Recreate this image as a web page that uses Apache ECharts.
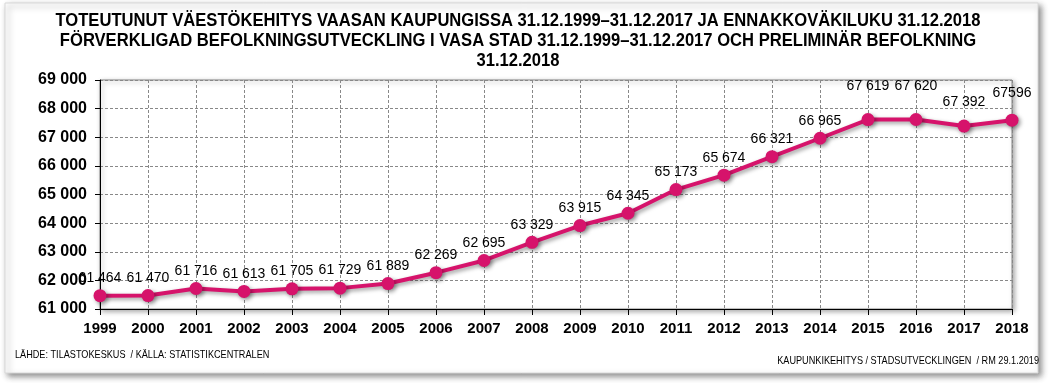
<!DOCTYPE html>
<html>
<head>
<meta charset="utf-8">
<script src="https://cdn.jsdelivr.net/npm/echarts@6/dist/echarts.min.js"></script>
<style>
html,body{margin:0;padding:0;background:#fff;}
#chart{width:1053px;height:383px;}
</style>
</head>
<body>
<div id="chart"></div>
<script>
const years = ['1999','2000','2001','2002','2003','2004','2005','2006','2007','2008','2009','2010','2011','2012','2013','2014','2015','2016','2017','2018'];
const population = [61464,61470,61716,61613,61705,61729,61889,62269,62695,63329,63915,64345,65173,65674,66321,66965,67619,67620,67392,67596];
const valueLabels = ['61 464','61 470','61 716','61 613','61 705','61 729','61 889','62 269','62 695','63 329','63 915','64 345','65 173','65 674','66 321','66 965','67 619','67 620','67 392','67596'];
const titleLines = [
  'TOTEUTUNUT VÄESTÖKEHITYS VAASAN KAUPUNGISSA 31.12.1999–31.12.2017 JA ENNAKKOVÄKILUKU 31.12.2018',
  'FÖRVERKLIGAD BEFOLKNINGSUTVECKLING I VASA STAD 31.12.1999–31.12.2017 OCH PRELIMINÄR BEFOLKNING',
  '31.12.2018'
];
const sourceLeft = 'LÄHDE: TILASTOKESKUS  / KÄLLA: STATISTIKCENTRALEN';
const sourceRight = 'KAUPUNKIKEHITYS / STADSUTVECKLINGEN  / RM 29.1.2019';

const chart = echarts.init(document.getElementById('chart'), null, {renderer:'canvas'});
const FONT = '"Liberation Sans", Arial, sans-serif';
const extraLift = {16: 16, 17: 16, 18: 6, 19: 10};
const seriesData = population.map((v, i) => ({
  value: v,
  label: { distance: 4 + (extraLift[i] || 0) }
}));
const option = {
  animation: false,
  backgroundColor: '#fff',
  graphic: [
    { type: 'rect', shape: { x: 5, y: 3, width: 1033, height: 370 },
      style: { fill: '#fff', stroke: '#d8d8d8', lineWidth: 1, shadowBlur: 6, shadowOffsetX: 3, shadowOffsetY: 3, shadowColor: 'rgba(0,0,0,0.45)' }, z: -10 },
    { type: 'text', x: 518, y: 11, scaleX: 0.948, originX: 0,
      style: { text: titleLines.join('\n'), font: 'bold 17.5px ' + FONT, lineHeight: 20, fill: '#000', textAlign: 'center' } },
    { type: 'text', x: 15, y: 350, scaleX: 0.87,
      style: { text: sourceLeft, font: '10.5px ' + FONT, fill: '#000' } },
    { type: 'text', x: 1039, y: 356, scaleX: 0.87,
      style: { text: sourceRight, font: '10.5px ' + FONT, fill: '#000', textAlign: 'right' } }
  ],
  grid: { left: 100, right: 41, top: 80, bottom: 74, show: true, borderColor: '#888', borderWidth: 1,
          shadowColor: 'rgba(0,0,0,0.35)', shadowBlur: 5, shadowOffsetX: 2, shadowOffsetY: 2, backgroundColor: '#fff' },
  xAxis: {
    type: 'category', data: years, boundaryGap: false,
    axisLine: { lineStyle: { color: '#000', width: 1 } },
    axisTick: { show: true, length: 6, lineStyle: { color: '#000' } },
    axisLabel: { color: '#000', fontFamily: FONT, fontWeight: 'bold', fontSize: 15, margin: 12 },
    splitLine: { show: true, lineStyle: { color: '#888', type: [3, 2], width: 1 } }
  },
  yAxis: {
    type: 'value', min: 61000, max: 69000, interval: 1000,
    axisLine: { show: true, lineStyle: { color: '#000', width: 1 } },
    axisTick: { show: true, length: 5, lineStyle: { color: '#000' } },
    axisLabel: { color: '#000', fontFamily: FONT, fontWeight: 'bold', fontSize: 16, margin: 13,
      formatter: v => String(v).replace(/\B(?=(\d{3})+(?!\d))/g, ' ') },
    splitLine: { show: true, lineStyle: { color: '#888', type: [3, 2], width: 1 } }
  },
  series: [{
    type: 'line', data: seriesData, symbol: 'circle', symbolSize: 13,
    lineStyle: { color: '#d6136b', width: 4, shadowColor: 'rgba(0,0,0,0.4)', shadowBlur: 4, shadowOffsetX: 2, shadowOffsetY: 2 },
    itemStyle: { color: '#d6136b', shadowColor: 'rgba(0,0,0,0.4)', shadowBlur: 4, shadowOffsetX: 2, shadowOffsetY: 2 },
    label: { show: true, position: 'top', color: '#000', fontFamily: FONT, fontSize: 14,
      formatter: p => valueLabels[p.dataIndex] }
  }]
};
chart.setOption(option);
</script>
</body>
</html>
